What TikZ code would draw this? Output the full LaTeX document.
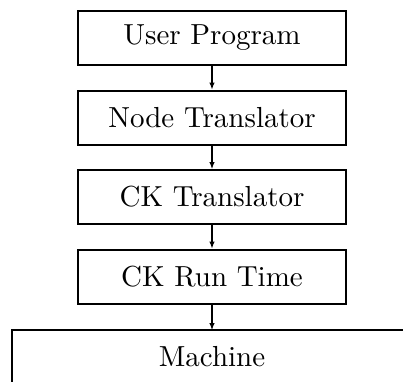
\documentclass[tikz,border=0pt]{standalone}
\usepackage{graphicx}
\usetikzlibrary{arrows.meta}
% labels are set in the 10pt design and enlarged, which keeps its wide, sturdy letters
\newcommand\layertext[1]{\scalebox{2.9}{#1}}
\begin{document}
\begin{tikzpicture}[x=1pt,y=-1pt,
  layer/.style={draw,line width=2pt,minimum width=268pt,minimum height=54pt,
    inner sep=0pt},
  flow/.style={line width=1.1pt,-{Latex[length=7pt,width=5.5pt]}}]
\useasboundingbox (0,0) rectangle (403,381);
\clip (0,0) rectangle (403,381);
\node[layer] (up) at (212,38) {\layertext{User Program}};
\node[layer] (nt) at (212,117.5) {\layertext{Node Translator}};
\node[layer] (ck) at (212,197) {\layertext{CK Translator}};
\node[layer] (rt) at (212,276.5) {\layertext{CK Run Time}};
% the machine layer runs off the page to the right and below
\node (mc) at (212,357) {\layertext{Machine}};
\coordinate (mtop) at (212,330);
\draw[line width=1.2pt] (420,330) -- (12,330) -- (12,400);
\draw[flow] (up) -- (nt);
\draw[flow] (nt) -- (ck);
\draw[flow] (ck) -- (rt);
\draw[flow] (rt) -- (mtop);
\end{tikzpicture}
\end{document}
